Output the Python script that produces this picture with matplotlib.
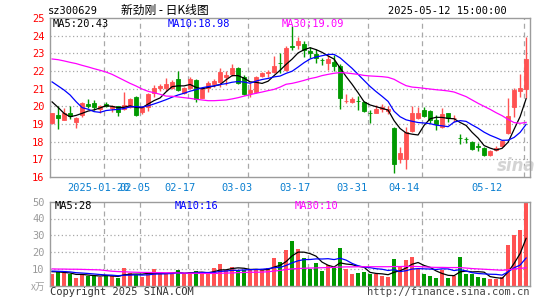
import numpy as np
import matplotlib.pyplot as plt

plt.rcParams['font.family'] = ['DejaVu Sans Mono', 'Noto Sans CJK SC']

# ---- dados ----
open_ = [19.06, 19.51, 19.25, 19.62, 19.13, 19.51, 20.15, 20.19, 19.87, 20.11,
         19.90, 20.00, 19.83, 19.94, 20.53, 19.66, 19.94, 20.77, 21.06, 21.02,
         21.06, 21.55, 20.77, 21.02, 21.49, 20.49, 21.04, 21.25, 21.40, 21.68,
         21.81, 22.19, 21.68, 20.77, 20.83, 21.74, 21.91, 21.94, 22.45, 22.06,
         23.40, 23.49, 23.53, 23.15, 22.98, 22.64, 22.47, 22.53, 22.30, 20.30,
         20.23, 20.32, 20.23, 19.62, 19.64, 19.83, 19.74, 18.75, 17.00, 17.00,
         18.62, 19.36, 19.79, 19.74, 19.23, 18.85, 19.60, 19.34, 18.21, 18.17,
         18.00, 17.74, 17.66, 17.25, 17.52, 17.75, 18.47, 19.94, 20.89, 20.96]
high = [19.65, 20.02, 19.89, 20.02, 19.41, 20.25, 20.40, 20.36, 20.08, 20.25,
        20.06, 20.00, 20.81, 20.49, 20.57, 20.00, 20.77, 21.19, 21.25, 21.60,
        21.49, 22.00, 21.11, 21.64, 21.57, 21.11, 21.42, 21.57, 22.15, 22.02,
        22.38, 22.25, 21.77, 21.30, 21.72, 21.96, 22.06, 22.87, 23.00, 23.42,
        24.57, 23.94, 23.72, 23.34, 23.23, 22.75, 22.91, 22.89, 22.38, 20.70,
        20.51, 20.60, 20.28, 19.79, 20.06, 20.13, 20.02, 18.85, 17.72, 18.81,
        20.02, 19.94, 19.94, 19.79, 19.51, 19.89, 19.64, 19.49, 18.43, 18.28,
        18.06, 17.91, 17.72, 17.53, 17.75, 18.10, 20.47, 21.02, 21.81, 23.94]
low = [18.98, 18.74, 19.20, 19.28, 18.79, 19.42, 19.89, 19.79, 19.60, 19.94,
       19.70, 19.47, 19.79, 19.91, 19.45, 19.58, 19.75, 20.55, 20.89, 20.89,
       21.00, 20.89, 20.70, 20.96, 20.26, 20.45, 20.81, 21.11, 21.11, 21.21,
       21.72, 21.26, 20.64, 20.51, 20.77, 21.68, 21.68, 21.87, 21.90, 22.02,
       23.20, 23.23, 22.77, 22.75, 22.43, 22.34, 22.06, 22.00, 19.83, 20.17,
       20.17, 19.77, 19.70, 19.04, 19.60, 19.70, 19.55, 16.21, 16.77, 16.45,
       18.57, 19.28, 19.38, 19.04, 18.66, 18.75, 19.13, 19.13, 17.85, 17.91,
       17.53, 17.49, 17.19, 17.19, 17.45, 17.68, 18.43, 19.42, 20.55, 20.45]
close = [19.62, 19.36, 19.62, 19.47, 19.36, 20.21, 20.00, 19.96, 20.02, 20.00,
         20.00, 19.66, 20.06, 20.42, 19.53, 19.94, 20.70, 21.04, 21.17, 21.26,
         21.40, 20.92, 21.04, 21.57, 20.42, 21.00, 21.34, 21.43, 21.96, 21.77,
         22.19, 21.34, 20.70, 20.92, 21.64, 21.89, 21.96, 22.30, 22.43, 23.30,
         23.38, 23.72, 23.19, 23.00, 22.75, 22.62, 22.70, 22.30, 20.49, 20.32,
         20.42, 20.30, 19.75, 19.60, 19.83, 19.94, 19.83, 16.74, 17.38, 18.57,
         19.60, 19.60, 19.47, 19.23, 19.00, 19.55, 19.34, 19.36, 18.19, 18.15,
         17.60, 17.72, 17.24, 17.47, 17.62, 18.06, 19.45, 20.90, 21.04, 22.70]
# fechamentos anteriores à janela (estimados pelo início das médias)
prev_close = [21.66, 21.92, 22.27, 23.16, 23.56, 20.91, 21.32, 20.42, 18.98]

ma30 = [22.68, 22.64, 22.57, 22.49, 22.42, 22.32, 22.23, 22.13, 22.04, 21.94,
        21.81, 21.64, 21.47, 21.30, 21.15, 20.98, 20.85, 20.77, 20.68, 20.58,
        20.57, 20.53, 20.49, 20.45, 20.40, 20.36, 20.32, 20.32, 20.34, 20.36,
        20.42, 20.49, 20.58, 20.66, 20.74, 20.81, 20.89, 20.96, 21.09, 21.25,
        21.30, 21.38, 21.47, 21.57, 21.64, 21.74, 21.81, 21.87, 21.91, 21.89,
        21.85, 21.81, 21.75, 21.72, 21.70, 21.68, 21.64, 21.53, 21.34, 21.17,
        21.09, 21.06, 21.02, 20.98, 20.94, 20.91, 20.87, 20.81, 20.68, 20.55,
        20.36, 20.17, 20.00, 19.83, 19.64, 19.47, 19.26, 19.08, 19.04, 19.09]

volume = [6.9, 7.9, 7.3, 6.9, 4.6, 6.9, 6.0, 5.8, 5.4, 6.2,
          5.6, 4.6, 10.5, 7.3, 6.5, 5.4, 7.3, 10.1, 6.9, 6.9,
          6.9, 9.3, 6.9, 8.1, 8.7, 7.3, 7.3, 10.5, 12.9, 9.3,
          11.1, 9.3, 9.3, 9.3, 9.9, 9.3, 10.5, 16.5, 14.3, 21.1,
          26.4, 21.7, 16.3, 10.0, 13.4, 8.7, 12.4, 11.2, 22.2, 10.0,
          6.9, 7.5, 8.3, 6.9, 6.9, 5.7, 4.9, 15.7, 11.2, 15.2,
          16.9, 10.0, 6.9, 5.7, 4.5, 9.3, 4.5, 5.9, 16.9, 6.9,
          6.9, 5.1, 4.5, 3.7, 3.7, 4.9, 24.0, 30.0, 33.0, 49.0]
prev_volume = [9.2, 8.8, 9.0, 9.3, 9.0, 8.5, 8.9, 8.6, 8.8]
vol_ma30 = [10.0, 9.9, 9.9, 9.8, 9.8, 9.7, 9.6, 9.5, 9.4, 9.0,
            8.6, 8.4, 8.3, 8.1, 8.0, 7.9, 7.9, 7.8, 7.8, 7.7,
            7.7, 7.6, 7.5, 7.4, 7.4, 7.3, 7.3, 7.3, 7.4, 7.5,
            7.6, 7.8, 7.9, 8.0, 8.0, 8.1, 8.3, 8.7, 9.1, 9.6,
            10.0, 10.2, 10.4, 10.5, 10.6, 10.7, 10.8, 10.9, 11.1, 11.2,
            11.2, 11.3, 11.3, 11.3, 11.3, 11.3, 11.3, 11.4, 11.4, 11.5,
            11.5, 11.4, 11.2, 11.0, 10.9, 10.9, 10.8, 10.8, 10.8, 10.5,
            10.2, 10.0, 9.8, 9.6, 9.4, 9.2, 9.5, 9.9, 10.3, 10.7]

date_labels = ['2025-01-20', '02-05', '02-17', '03-03', '03-17', '03-31', '04-14', '05-12']
date_idx = [9, 15, 23, 33, 43, 53, 62, 79]
label_pos = [7.8, 13.8, 21.3, 30.9, 40.5, 50.0, 58.7, 72.5]

# ---- médias móveis ----
def media(serie, n, ant):
    s = np.array(ant + serie)
    out = np.convolve(s, np.ones(n) / n, mode='valid')
    return out[len(out) - len(serie):]

ma5 = media(close, 5, prev_close)
ma10 = media(close, 10, prev_close)
vma5 = media(volume, 5, prev_volume)
vma10 = media(volume, 10, prev_volume)

RED = '#ff5252'
GREEN = '#009900'
GRID = '#a8a8a8'
x = np.arange(len(close))
cores = [RED if c >= o else GREEN for o, c in zip(open_, close)]

W, H = 545, 300
fig = plt.figure(figsize=(W / 100, H / 100), dpi=100)
ax1 = fig.add_axes([50 / W, 1 - 177 / H, 480 / W, 159 / H])
ax2 = fig.add_axes([50 / W, 1 - 285.7 / H, 480 / W, 84 / H])

for ax in (ax1, ax2):
    ax.set_xlim(-0.35, 79.65)
    for s in ax.spines.values():
        s.set_color('#9c9c9c')
        s.set_linewidth(1.0)
    ax.set_xticks([])
    ax.tick_params(axis='y', length=0, pad=4, labelsize=7.5)
    for d in date_idx:
        ax.axvline(d - 0.3, color=GRID, lw=0.9, ls=(0, (4, 3)), zorder=0)

# ---- preço ----
ax1.set_ylim(16, 25)
ax1.set_yticks(range(16, 26))
ax1.tick_params(axis='y', labelcolor='red')
for v in range(17, 25):
    ax1.axhline(v, color=GRID, lw=0.9, ls=(0, (1, 2)), zorder=0)

ax1.vlines(x, low, high, colors=cores, lw=1.0, zorder=2)
corpo = np.abs(np.array(close) - np.array(open_))
base = np.minimum(close, open_)
ax1.bar(x, corpo, bottom=base, width=0.78, color=cores, edgecolor=cores,
        linewidth=0.6, zorder=3)
ax1.plot(x, ma5, color='black', lw=0.9, zorder=4)
ax1.plot(x, ma10, color='#0000ff', lw=0.9, zorder=4)
ax1.plot(x, ma30, color='#ff00ff', lw=0.9, zorder=4)

ax1.text(77.3, 16.6, 'sina', fontsize=12, fontweight='bold', style='italic',
         color='#d4d4d4', ha='center', va='center', family='DejaVu Sans', zorder=1)

# ---- volume ----
ax2.set_ylim(0, 50)
ax2.set_yticks([10, 20, 30, 40, 50])
ax2.tick_params(axis='y', labelcolor='#9a9a9a')
for v in (10, 20, 30, 40):
    ax2.axhline(v, color=GRID, lw=0.9, ls=(0, (1, 2)), zorder=0)
ax2.bar(x, volume, width=0.78, color=cores, zorder=2)
ax2.plot(x, vma5, color='black', lw=0.9, zorder=4)
ax2.plot(x, vma10, color='#0000ff', lw=0.9, zorder=4)
ax2.plot(x, vol_ma30, color='#ff00ff', lw=0.9, zorder=4)

# rótulos de data
for lab, p in zip(date_labels, label_pos):
    ax1.text(p, -0.035, lab, transform=ax1.get_xaxis_transform(), ha='center',
             va='top', fontsize=7.5, color='#0a7fd0')

# ---- textos ----
def ftext(px, py, s, **kw):
    fig.text(px / W, 1 - py / H, s, va='center', **kw)

ftext(48, 11, 'sz300629', fontsize=7.5, color='black')
ftext(165, 10, '新劲刚 - 日K线图', fontsize=8.5, color='black', ha='center',
      family=['Noto Sans CJK SC', 'DejaVu Sans'])
ftext(507, 11, '2025-05-12 15:00:00', fontsize=7.5, color='black', ha='right')

ftext(53, 24, 'MA5:%.2f' % ma5[-1], fontsize=7.5, color='black')
ftext(168, 24, 'MA10:%.2f' % ma10[-1], fontsize=7.5, color='#0000ff')
ftext(282, 24, 'MA30:%.2f' % ma30[-1], fontsize=7.5, color='#ff00ff')

ftext(55, 206, 'MA5:%d' % vma5[-1], fontsize=7.5, color='black')
ftext(175, 206, 'MA10:%d' % vma10[-1], fontsize=7.5, color='#0000ff')
ftext(295, 206, 'MA30:%d' % vol_ma30[-1], fontsize=7.5, color='#ff00ff')

ftext(45, 287, 'x万', fontsize=7, color='#a0a0a0', ha='right',
      family=['Noto Sans CJK SC', 'DejaVu Sans'])
ftext(50, 292, 'Copyright 2025 SINA.COM', fontsize=7.5, color='#333333')
ftext(530, 292, 'http://finance.sina.com.cn', fontsize=7.5, color='#444444', ha='right')

fig.savefig('out.png', dpi=100)
